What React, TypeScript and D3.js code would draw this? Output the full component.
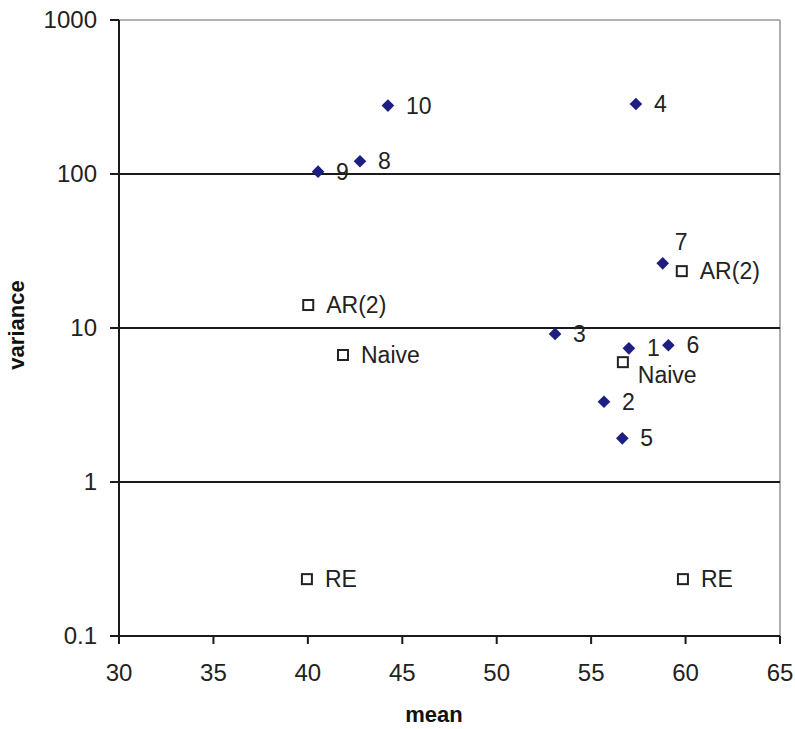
import React from "react";
import * as d3 from "d3";

// Numbered series (blue diamonds)
const seriesIds = ["1", "2", "3", "4", "5", "6", "7", "8", "9", "10"];
const seriesMean = [57.0, 55.68, 53.09, 57.37, 56.65, 59.09, 58.79, 42.76, 40.54, 44.24];
const seriesVariance = [7.38, 3.32, 9.15, 285, 1.92, 7.73, 26.3, 121, 103.5, 278];
// label placement for each numbered point
const seriesLabelPos = ["right", "right", "right", "right", "right", "right", "above", "right", "right", "right"];

// Benchmarks (open squares)
const benchNames = ["AR(2)", "Naive", "RE", "AR(2)", "Naive", "RE"];
const benchMean = [40.02, 41.86, 39.95, 59.8, 56.68, 59.86];
const benchVariance = [14.1, 6.68, 0.234, 23.4, 6.0, 0.234];
const benchLabelPos = ["right", "right", "right", "right", "below", "right"];

// Axes
const xTicks = [30, 35, 40, 45, 50, 55, 60, 65];
const yTicks = [0.1, 1, 10, 100, 1000];
const yTickLabels = ["0.1", "1", "10", "100", "1000"];

const W = 795;
const H = 729;
const left = 119;
const right = 780;
const top = 20;
const bottom = 636;

export default function App() {
  const x = d3.scaleLinear().domain([30, 65]).range([left, right]);
  const y = d3.scaleLog().domain([0.1, 1000]).range([bottom, top]);
  const diamond = d3.symbol().type(d3.symbolSquare).size(80)();
  const font = "Liberation Sans, Arial, sans-serif";
  const navy = "#1d1d82";

  return (
    <svg
      width={W}
      height={H}
      style={{ position: "absolute", left: 0, top: 0, background: "#fff" }}
      fontFamily={font}
    >
      <rect x={0} y={0} width={W} height={H} fill="#fff" />
      {/* top and right frame */}
      <line x1={left} x2={right} y1={y(1000)} y2={y(1000)} stroke="#9a9a9a" strokeWidth={1.6} />
      <line x1={right} x2={right} y1={top} y2={bottom} stroke="#9a9a9a" strokeWidth={1.6} />
      {/* grid lines */}
      {yTicks
        .filter((t) => t > 0.1 && t < 1000)
        .map((t) => (
          <line key={"g" + t} x1={left} x2={right} y1={y(t)} y2={y(t)} stroke="#1a1a1a" strokeWidth={2} />
        ))}
      {/* y axis */}
      <line x1={left} x2={left} y1={top} y2={bottom} stroke="#1a1a1a" strokeWidth={2} />
      {yTicks.map((t, i) => (
        <g key={"yt" + t}>
          <line x1={left - 9} x2={left} y1={y(t)} y2={y(t)} stroke="#1a1a1a" strokeWidth={2} />
          <text x={left - 22} y={y(t)} dy="0.35em" textAnchor="end" fontSize={24} fill="#222">
            {yTickLabels[i]}
          </text>
        </g>
      ))}
      {/* x axis */}
      <line x1={left} x2={right} y1={bottom} y2={bottom} stroke="#1a1a1a" strokeWidth={2} />
      {xTicks.map((t) => (
        <g key={"xt" + t}>
          <line x1={x(t)} x2={x(t)} y1={bottom} y2={bottom + 8} stroke="#1a1a1a" strokeWidth={2} />
          <text x={x(t)} y={673} dy="0.35em" textAnchor="middle" fontSize={24} fill="#222">
            {t}
          </text>
        </g>
      ))}
      {/* axis titles */}
      <text x={434} y={714} dy="0.35em" textAnchor="middle" fontSize={22} fontWeight="bold" fill="#111">
        mean
      </text>
      <text
        transform={`translate(16,325) rotate(-90)`}
        dy="0.35em"
        textAnchor="middle"
        fontSize={22}
        fontWeight="bold"
        fill="#111"
      >
        variance
      </text>
      {/* benchmarks */}
      {benchNames.map((n, i) => {
        const cx = x(benchMean[i]);
        const cy = y(benchVariance[i]);
        const below = benchLabelPos[i] === "below";
        return (
          <g key={"b" + i}>
            <rect x={cx - 5} y={cy - 5} width={10} height={10} fill="#fff" stroke="#222" strokeWidth={2} />
            <text
              x={cx + (below ? 15 : 18)}
              y={cy + (below ? 13 : 0)}
              dy="0.35em"
              fontSize={23}
              fill="#222"
            >
              {n}
            </text>
          </g>
        );
      })}
      {/* numbered series */}
      {seriesIds.map((id, i) => {
        const cx = x(seriesMean[i]);
        const cy = y(seriesVariance[i]);
        const above = seriesLabelPos[i] === "above";
        return (
          <g key={"s" + id}>
            <path d={diamond ?? ""} transform={`translate(${cx},${cy}) rotate(45)`} fill={navy} />
            <text
              x={cx + (above ? 12 : 18)}
              y={cy + (above ? -21 : 0)}
              dy="0.35em"
              fontSize={23}
              fill="#222"
            >
              {id}
            </text>
          </g>
        );
      })}
    </svg>
  );
}
